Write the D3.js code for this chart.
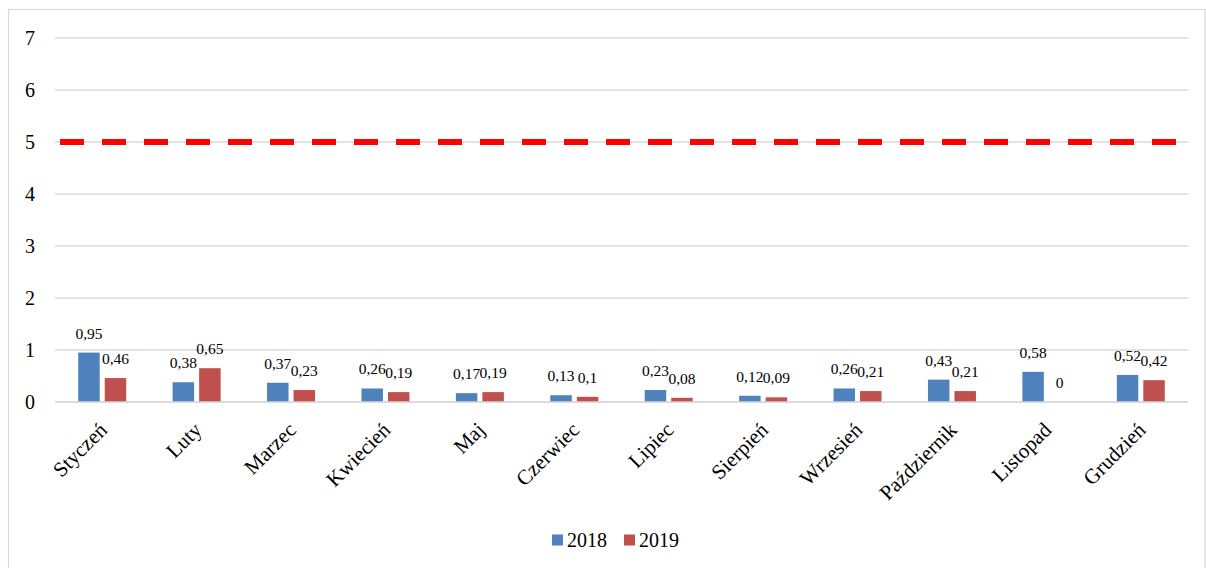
<!DOCTYPE html>
<html>
<head>
<meta charset="utf-8">
<script src="https://cdn.jsdelivr.net/npm/d3@7"></script>
<style>
  html, body { margin: 0; padding: 0; background: #fff; }
  svg { display: block; font-family: "Liberation Serif", "Times New Roman", serif; }
</style>
</head>
<body>
<svg id="chart" width="1206" height="568"></svg>
<script>
// Monthly values for two years plus a limit line
const months = ["Styczeń", "Luty", "Marzec", "Kwiecień", "Maj", "Czerwiec",
                "Lipiec", "Sierpień", "Wrzesień", "Październik", "Listopad", "Grudzień"];
const series = ["2018", "2019"];
const values2018 = [0.95, 0.38, 0.37, 0.26, 0.17, 0.13, 0.23, 0.12, 0.26, 0.43, 0.58, 0.52];
const values2019 = [0.46, 0.65, 0.23, 0.19, 0.19, 0.1, 0.08, 0.09, 0.21, 0.21, 0, 0.42];
const yTicks = [0, 1, 2, 3, 4, 5, 6, 7];
const limitValue = 5;

const colors = { "2018": "#4F81BD", "2019": "#C0504D" };
const valuesBySeries = { "2018": values2018, "2019": values2019 };

const svg = d3.select("#chart");

// outer frame
svg.append("rect")
  .attr("x", 8.5).attr("y", 9.5)
  .attr("width", 1196.5).attr("height", 570)
  .attr("fill", "none").attr("stroke", "#d9d9d9").attr("stroke-width", 1.2);

const plot = { left: 55, right: 1188, top: 38, bottom: 402 };

const x0 = d3.scaleBand().domain(months).range([plot.left, plot.right]).padding(0);
const y = d3.scaleLinear().domain([0, 7]).range([plot.bottom, plot.top]);

// gridlines
svg.append("g")
  .selectAll("line")
  .data(yTicks)
  .join("line")
  .attr("x1", plot.left).attr("x2", plot.right)
  .attr("y1", d => y(d)).attr("y2", d => y(d))
  .attr("stroke", "#d9d9d9").attr("stroke-width", 1.6);

// y axis labels
const yAxis = d3.axisLeft(y).tickValues(yTicks).tickSize(0).tickPadding(0).tickFormat(d3.format("d"));
const yg = svg.append("g").attr("transform", `translate(${plot.left - 20},0)`).call(yAxis);
yg.select(".domain").remove();
yg.attr("font-family", null);
yg.selectAll("text")
  .attr("font-family", "Liberation Serif, Times New Roman, serif")
  .attr("font-size", 20).attr("fill", "#000");

// limit line
const limitLine = d3.line().x(d => d).y(() => y(limitValue));
svg.append("path")
  .attr("d", limitLine([plot.left + 5, plot.right - 12]))
  .attr("stroke", "#ff0000").attr("stroke-width", 6)
  .attr("stroke-dasharray", "24,18").attr("fill", "none");

// bars
const groupHalf = 24;
const groups = svg.append("g").selectAll("g")
  .data(months)
  .join("g")
  .attr("transform", d => `translate(${x0(d) + x0.bandwidth() / 2 - groupHalf},0)`);

const x1 = d3.scaleBand().domain(series).range([0, groupHalf * 2]).paddingInner(0.19).paddingOuter(0);

const fmt = v => String(v).replace(".", ",");

groups.each(function (m, i) {
  const g = d3.select(this);
  const rows = series.map(s => ({ s, v: valuesBySeries[s][i] }));
  g.selectAll("rect")
    .data(rows)
    .join("rect")
    .attr("x", d => x1(d.s))
    .attr("y", d => y(d.v))
    .attr("width", x1.bandwidth())
    .attr("height", d => y(0) - y(d.v))
    .attr("fill", d => colors[d.s]);
  g.selectAll("text")
    .data(rows)
    .join("text")
    .attr("x", d => x1(d.s) + x1.bandwidth() / 2)
    .attr("y", d => y(d.v) - 14)
    .attr("text-anchor", "middle")
    .attr("font-size", 15.5)
    .attr("fill", "#000")
    .text(d => fmt(d.v));
});

// x axis line
svg.append("line")
  .attr("x1", plot.left).attr("x2", plot.right)
  .attr("y1", y(0)).attr("y2", y(0))
  .attr("stroke", "#d9d9d9").attr("stroke-width", 1.6);

// category labels, rotated
svg.append("g").selectAll("text")
  .data(months)
  .join("text")
  .attr("transform", d => `translate(${x0(d) + x0.bandwidth() / 2 + 1},${plot.bottom + 24}) rotate(-45)`)
  .attr("text-anchor", "end")
  .attr("dy", "0.35em")
  .attr("font-size", 21)
  .attr("fill", "#000")
  .text(d => d);

// legend
const legend = svg.append("g").attr("transform", "translate(552,540)");
const legendItems = legend.selectAll("g")
  .data(series)
  .join("g")
  .attr("transform", (d, i) => `translate(${i * 72},0)`);
legendItems.append("rect")
  .attr("x", 0).attr("y", -5.5).attr("width", 11).attr("height", 11)
  .attr("fill", d => colors[d]);
legendItems.append("text")
  .attr("x", 15).attr("y", 0).attr("dy", "0.35em")
  .attr("font-size", 20).attr("fill", "#000")
  .text(d => d);
</script>
</body>
</html>
